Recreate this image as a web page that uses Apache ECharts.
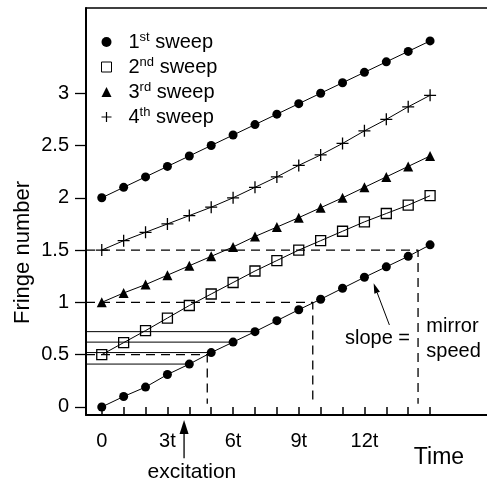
<!DOCTYPE html>
<html>
<head>
<meta charset="utf-8">
<script src="https://cdn.jsdelivr.net/npm/echarts@6/dist/echarts.min.js"></script>
<style>
html,body{margin:0;padding:0;background:#fff;}
#c{width:487px;height:483px;}
</style>
</head>
<body>
<div id="c"></div>
<script>
// ---- data (time in units of t, fringe number) ----
const timeSteps = [0,1,2,3,4,5,6,7,8,9,10,11,12,13,14,15];
const sweep1 = [0, 0.10, 0.19, 0.31, 0.41, 0.52, 0.62, 0.72, 0.825, 0.93, 1.03, 1.135, 1.24, 1.34, 1.44, 1.55];
const sweep1Upper = [2.0, 2.10, 2.20, 2.30, 2.40, 2.50, 2.60, 2.70, 2.80, 2.90, 3.0, 3.10, 3.20, 3.30, 3.40, 3.50];
const sweep2 = [0.50, 0.615, 0.73, 0.85, 0.97, 1.08, 1.19, 1.30, 1.40, 1.50, 1.59, 1.68, 1.77, 1.85, 1.93, 2.02];
const sweep3 = [1.0, 1.09, 1.17, 1.26, 1.35, 1.44, 1.53, 1.63, 1.72, 1.81, 1.905, 2.0, 2.10, 2.20, 2.30, 2.40];
const sweep4 = [1.50, 1.59, 1.67, 1.75, 1.83, 1.91, 2.00, 2.10, 2.20, 2.31, 2.41, 2.52, 2.64, 2.75, 2.87, 2.98];

const xTickValues = [0,1,2,3,4,5,6,7,8,9,10,11,12,13,14,15];
const xLabelValues = [0,3,6,9,12];
const xTickLabels = ['0','3t','6t','9t','12t'];
const yTickValues = [0,0.5,1,1.5,2,2.5,3];
const yTickLabels = ['0','0.5','1','1.5','2','2.5','3'];

// dashed level crossings of the 1st sweep
const crossLevels = [0.5, 1.0, 1.5];
const crossTimes = [4.82, 9.64, 14.45];
const dropBottom = 0.03;
// solid guide lines at 1st-sweep values of these steps
const guideSteps = [4,5,6,7];

const xMin = -0.72, xMax = 17.6, yMin = -0.077, yMax = 3.815;

const legendNames = ['1st sweep','2nd sweep','3rd sweep','4th sweep'];

const FONT = '"Liberation Sans", Arial, Helvetica, sans-serif';

const chart = echarts.init(document.getElementById('c'), null, {renderer:'canvas'});

function pts(vals){ return vals.map((v,i)=>[timeSteps[i], v]); }

const base = {
  type:'line', animation:false, clip:false, z:3,
  lineStyle:{color:'#000', width:1},
  emphasis:{disabled:true}, silent:true
};

function guide(coords, dashed){
  return {
    type:'line', animation:false, clip:false, z:1, silent:true, symbol:'none',
    data: coords,
    lineStyle:{color:'#000', width: dashed ? 1.3 : 1, type: dashed ? [9,6] : 'solid'},
    emphasis:{disabled:true}
  };
}

const guideSeries = [];
crossLevels.forEach((lv,i)=>{
  guideSeries.push(guide([[xMin, lv],[crossTimes[i], lv],[crossTimes[i], dropBottom]], true));
});
guideSteps.forEach(s=>{
  guideSeries.push(guide([[xMin, sweep1[s]],[timeSteps[s], sweep1[s]]], false));
});

const plusPath = 'path://M0,6H12M6,0V12';

chart.setOption({
  backgroundColor:'#fff',
  animation:false,
  grid:{left:86, top:8, right:0, bottom:68, outerBoundsMode:'none', containLabel:false},
  legend:{
    orient:'vertical', left:94, top:26, itemWidth:34, itemHeight:10, itemGap:4,
    selectedMode:false,
    data:[
      {name:legendNames[0], icon:'circle', itemStyle:{color:'#000', borderWidth:0}},
      {name:legendNames[1], icon:'path://M0,0H10V10H0Z', itemStyle:{color:'#fff', borderColor:'#000', borderWidth:1}},
      {name:legendNames[2], icon:'path://M5,0L10,10H0Z', itemStyle:{color:'#000', borderWidth:0}},
      {name:legendNames[3], icon:'path://M0,5H10M5,0V10', itemStyle:{color:'none', borderColor:'#000', borderWidth:1.2}}
    ],
    formatter: function(n){
      const m = n.match(/^(\d)(\w\w) (.*)$/);
      return '{n|' + m[1] + '}{s|' + m[2] + '}{n| ' + m[3] + '}';
    },
    textStyle:{
      rich:{
        n:{fontSize:20, fontFamily:FONT, color:'#000', lineHeight:22},
        s:{fontSize:13, fontFamily:FONT, color:'#000', lineHeight:14, verticalAlign:'top'}
      }
    }
  },
  xAxis:[{
    type:'value', min:xMin, max:xMax, position:'bottom',
    axisLine:{show:true, onZero:false, lineStyle:{color:'#000', width:2}},
    axisTick:{show:true, inside:true, length:8, customValues:xTickValues, lineStyle:{color:'#000', width:1.5}},
    axisLabel:{show:true, customValues:xLabelValues, margin:16, fontSize:20, fontFamily:FONT, color:'#000',
      formatter:function(v){ const i = xLabelValues.indexOf(v); return i >= 0 ? xTickLabels[i] : ''; }},
    splitLine:{show:false},
    name:'Time', nameLocation:'middle', nameGap:31, nameMoveOverlap:false,
    nameTextStyle:{fontSize:23, fontFamily:FONT, color:'#000', padding:[0,0,0,305]}
  },{
    type:'value', min:xMin, max:xMax, position:'top',
    axisLine:{show:true, onZero:false, lineStyle:{color:'#000', width:1.5}},
    axisTick:{show:false}, axisLabel:{show:false}, splitLine:{show:false}
  }],
  yAxis:[{
    type:'value', min:yMin, max:yMax, position:'left',
    axisLine:{show:true, onZero:false, lineStyle:{color:'#000', width:2}},
    axisTick:{show:true, inside:false, length:11, customValues:yTickValues, lineStyle:{color:'#000', width:1.3}},
    axisLabel:{show:true, customValues:yTickValues, margin:17, fontSize:20, fontFamily:FONT, color:'#000',
      formatter:function(v){ const i = yTickValues.indexOf(v); return i >= 0 ? yTickLabels[i] : ''; }},
    splitLine:{show:false},
    name:'Fringe number', nameLocation:'middle', nameGap:52, nameMoveOverlap:false,
    nameTextStyle:{fontSize:22, fontFamily:FONT, color:'#000', padding:[0,82,0,0]}
  }],
  series:[
    ...guideSeries,
    Object.assign({}, base, {name:legendNames[0], data:pts(sweep1), symbol:'circle', symbolSize:9, itemStyle:{color:'#000'}}),
    Object.assign({}, base, {name:legendNames[0], data:pts(sweep1Upper), symbol:'circle', symbolSize:9, itemStyle:{color:'#000'}}),
    Object.assign({}, base, {name:legendNames[1], data:pts(sweep2), symbol:'rect', symbolSize:10, itemStyle:{color:'rgba(0,0,0,0)', borderColor:'#000', borderWidth:1.3}}),
    Object.assign({}, base, {name:legendNames[2], data:pts(sweep3), symbol:'triangle', symbolSize:10, itemStyle:{color:'#000'}}),
    Object.assign({}, base, {name:legendNames[3], data:pts(sweep4), symbol:plusPath, symbolSize:12, itemStyle:{color:'rgba(0,0,0,0)', borderColor:'#000', borderWidth:1.3}})
  ]
});

// ---- annotations (in data coordinates) ----
const excitationArrow = {from:[3.76, -0.49], to:[3.76, -0.125]};
const excitationLabel = {at:[4.12, -0.622], text:'excitation'};
const slopeArrow = {from:[13.14, 0.784], to:[12.42, 1.182]};
const slopeLabel = {at:[11.11, 0.659], text:'slope ='};
const mirrorLabel = {at:[14.83, 0.647], text:'mirror\nspeed'};

function px(p){ return chart.convertToPixel({xAxisIndex:0, yAxisIndex:0}, p); }
function arrow(from, to, headLen, headW, lw){
  const a = px(from), b = px(to);
  const dx = b[0]-a[0], dy = b[1]-a[1], L = Math.hypot(dx,dy), ux = dx/L, uy = dy/L;
  const bx = b[0]-ux*headLen, by = b[1]-uy*headLen;
  return [
    {type:'line', silent:true, shape:{x1:a[0], y1:a[1], x2:bx, y2:by}, style:{stroke:'#000', lineWidth:lw}},
    {type:'polygon', silent:true, shape:{points:[[b[0],b[1]],[bx-uy*headW/2, by+ux*headW/2],[bx+uy*headW/2, by-ux*headW/2]]}, style:{fill:'#000'}}
  ];
}
function label(l, size, align, lh){
  const p = px(l.at);
  return {type:'text', silent:true, x:p[0], y:p[1],
    style:{text:l.text, font:size+'px '+FONT, fill:'#000', align:align, verticalAlign:'middle', lineHeight:lh || size}};
}

chart.setOption({
  graphic:[
    ...arrow(excitationArrow.from, excitationArrow.to, 14, 9, 1.3),
    ...arrow(slopeArrow.from, slopeArrow.to, 10, 6, 1),
    label(excitationLabel, 21, 'center'),
    label(slopeLabel, 20, 'left'),
    label(mirrorLabel, 20, 'left', 25)
  ]
});
</script>
</body>
</html>
